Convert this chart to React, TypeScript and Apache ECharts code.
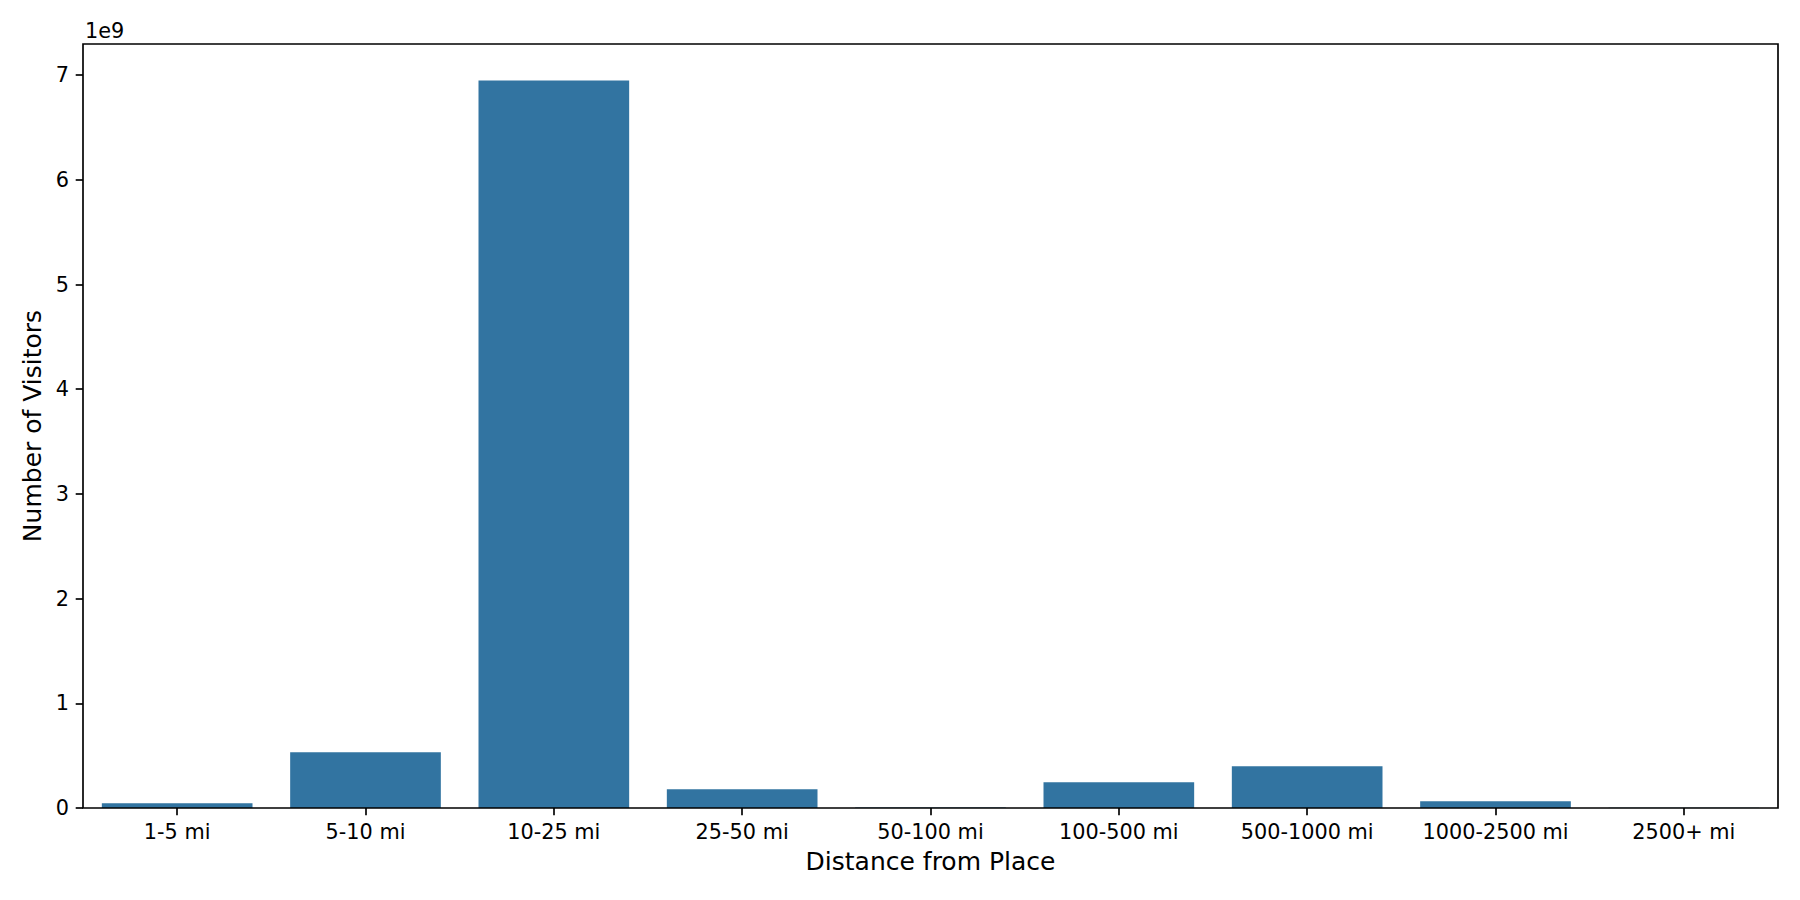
import React, { useEffect, useRef } from "react";
import * as echarts from "echarts";

const categories = [
  "1-5 mi",
  "5-10 mi",
  "10-25 mi",
  "25-50 mi",
  "50-100 mi",
  "100-500 mi",
  "500-1000 mi",
  "1000-2500 mi",
  "2500+ mi",
];
const visitors = [45e6, 532e6, 6950e6, 178e6, 4e6, 245e6, 398e6, 65e6, 3e6];
const yTickValues = [0, 1, 2, 3, 4, 5, 6, 7].map((v) => v * 1e9);
const yMax = 7.2975e9;

const W = 1800;
const H = 900;
const GL = 83;
const GR = 22;
const GT = 44;
const GB = 92;
const FONT = "DejaVu Sans";
const LW = 1.67;

export default function App() {
  const ref = useRef<HTMLDivElement>(null);
  useEffect(() => {
    if (!ref.current) return;
    const chart = echarts.init(ref.current, null, { renderer: "svg" });
    chart.setOption({
      animation: false,
      backgroundColor: "#ffffff",
      grid: { left: GL, right: GR, top: GT, bottom: GB, containLabel: false },
      xAxis: {
        type: "category",
        data: categories,
        boundaryGap: true,
        name: "Distance from Place",
        nameLocation: "middle",
        nameGap: 41,
        nameTextStyle: { fontFamily: FONT, fontSize: 25, color: "#000" },
        axisLine: { show: false },
        axisTick: {
          show: true,
          alignWithLabel: true,
          length: 7.3,
          lineStyle: { color: "#000", width: LW },
        },
        axisLabel: {
          fontFamily: FONT,
          fontSize: 20.8,
          color: "#000",
          margin: 13,
          interval: 0,
        },
        splitLine: { show: false },
      },
      yAxis: {
        type: "value",
        min: 0,
        max: yMax,
        interval: 1e9,
        name: "Number of Visitors",
        nameLocation: "middle",
        nameGap: 34,
        nameRotate: 90,
        nameTextStyle: { fontFamily: FONT, fontSize: 25, color: "#000" },
        axisLine: { show: false },
        axisTick: {
          show: true,
          length: 7.3,
          customValues: yTickValues,
          lineStyle: { color: "#000", width: LW },
        },
        axisLabel: {
          fontFamily: FONT,
          fontSize: 20.8,
          color: "#000",
          margin: 14,
          customValues: yTickValues,
          formatter: (v: number) => String(Math.round(v / 1e9)),
        },
        splitLine: { show: false },
      },
      graphic: [
        {
          type: "rect",
          z: 100,
          shape: { x: GL, y: GT, width: W - GL - GR, height: H - GT - GB },
          style: { fill: "none", stroke: "#000", lineWidth: LW },
          silent: true,
        },
        {
          type: "text",
          x: 85,
          y: 31,
          style: {
            text: "1e9",
            fontFamily: FONT,
            fontSize: 20.8,
            fill: "#000",
            verticalAlign: "middle",
            align: "left",
          },
        },
      ],
      series: [
        {
          type: "bar",
          data: visitors,
          barWidth: "80%",
          itemStyle: { color: "#3274a1" },
        },
      ],
    });
    return () => chart.dispose();
  }, []);
  return (
    <div
      ref={ref}
      style={{ position: "absolute", left: 0, top: 0, width: W, height: H }}
    />
  );
}
